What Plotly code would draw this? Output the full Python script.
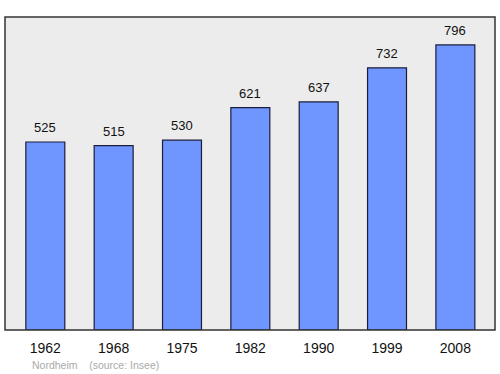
import plotly.graph_objects as go

years = ["1962", "1968", "1975", "1982", "1990", "1999", "2008"]
population = [525, 515, 530, 621, 637, 732, 796]

fig = go.Figure()
fig.add_trace(go.Bar(
    x=years, y=population,
    width=0.57,
    marker=dict(color="#6f96ff", line=dict(color="#1c1c3c", width=1.2)),
    hoverinfo="skip",
))
for i, v in enumerate(population):
    fig.add_annotation(x=i, y=v, xref="x", yref="y", text=str(v), showarrow=False,
                       yanchor="bottom", yshift=5,
                       font=dict(family="Liberation Sans, Arial", size=13, color="#111"))

fig.add_shape(type="rect", xref="paper", yref="paper", x0=0, y0=0, x1=1, y1=1,
              line=dict(color="#333", width=1.5), layer="above")
fig.add_annotation(xref="paper", yref="paper", x=0.05, y=-0.112, xanchor="left",
                   yanchor="middle", showarrow=False,
                   text="Nordheim &nbsp;&nbsp;&nbsp;(source: Insee)",
                   font=dict(family="Liberation Sans, Arial", size=10.5, color="#aaaaaa"))

fig.update_layout(
    width=500, height=374,
    margin=dict(l=5, r=5, t=17, b=44),
    paper_bgcolor="white", plot_bgcolor="#ececec",
    showlegend=False,
    xaxis=dict(type="category", range=[-0.59, 6.58], showgrid=False, zeroline=False,
               ticks="", ticklabelstandoff=8,
               tickfont=dict(family="Liberation Sans, Arial", size=14, color="#111"),
               fixedrange=True),
    yaxis=dict(range=[0, 874], showgrid=False, zeroline=False, showticklabels=False,
               fixedrange=True),
)
fig.write_html("out.html")
